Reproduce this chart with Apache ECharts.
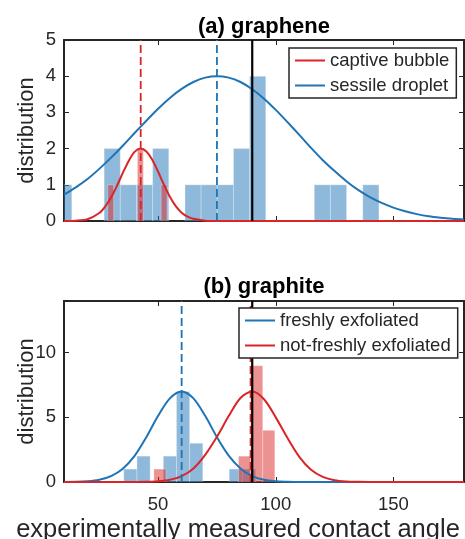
<!DOCTYPE html>
<html>
<head>
<meta charset="utf-8">
<title>contact angle distribution</title>
<script src="https://cdn.jsdelivr.net/npm/echarts@6/dist/echarts.min.js"></script>
<style>
    html, body {margin: 0; padding: 0; background: #fff;}
    #main {width: 465px; height: 539px;}
</style>
</head>
<body>
<div id="main"></div>
<script type="text/javascript">

// (a) graphene -- histogram bin edges and counts
var sessileEdges  = [6.45, 13.32, 20.19, 27.06, 33.93, 40.80, 47.67, 54.54, 61.41, 68.28, 75.15,
                     82.02, 88.89, 95.76, 102.63, 109.50, 116.37, 123.24, 130.11, 136.98, 143.85];
var sessileCounts = [1, 0, 0, 2, 1, 1, 2, 0, 1, 1, 1, 2, 4, 0, 0, 0, 1, 1, 0, 1];
var captiveEdges  = [28.60, 31.12, 33.64, 36.16, 38.68, 41.20, 43.72, 46.24, 48.76, 51.28, 53.80];
var captiveCounts = [1, 0, 0, 0, 0, 2, 0, 0, 0, 1];

// (a) fitted curves
var sessileX = [10, 15, 20, 25, 30, 35, 40, 45, 50, 55, 60, 65, 70, 75, 80, 85, 90, 95, 100, 105,
                110, 115, 120, 125, 130, 135, 140, 145, 150, 155, 160, 165, 170, 175, 180];
var sessileY = [0.73, 0.93, 1.16, 1.44, 1.75, 2.08, 2.43, 2.77, 3.10, 3.40, 3.65, 3.84, 3.96, 4.00, 3.96,
                3.84, 3.64, 3.38, 3.07, 2.73, 2.38, 2.02, 1.68, 1.38, 1.10, 0.86, 0.66, 0.50, 0.37,
                0.27, 0.19, 0.13, 0.09, 0.06, 0.04];
var captiveX = [10, 15, 20, 25, 27.5, 30, 32.5, 35, 37.5, 40, 42.5, 45, 47.5, 50, 52.5, 55, 57.5,
                60, 62.5, 65, 70, 75, 180];
var captiveY = [0, 0.01, 0.05, 0.22, 0.40, 0.65, 0.97, 1.33, 1.66, 1.91, 2.00, 1.92, 1.69, 1.36,
                1.00, 0.67, 0.41, 0.23, 0.12, 0.06, 0.01, 0, 0];

// (b) graphite -- histogram bin edges and counts
var freshEdges  = [35.4, 41.0, 46.6, 52.2, 57.8, 63.4, 69.0, 74.6, 80.2, 85.8, 91.4];
var freshCounts = [1, 2, 0, 2, 7, 3, 0, 0, 1, 1];
var oldEdges    = [48.20, 53.34, 58.48, 63.62, 68.76, 73.90, 79.04, 84.18, 89.32, 94.46, 99.60];
var oldCounts   = [1, 0, 0, 0, 0, 0, 0, 2, 9, 4];

// (b) fitted curves
var curveX = [10, 15, 20, 25, 30, 35, 40, 45, 50, 55, 60, 65, 70, 75, 80, 85, 90, 95, 100, 105,
              110, 115, 120, 125, 130, 135, 140, 145, 150, 155, 160, 165, 170, 175, 180];
var freshY = [0, 0.01, 0.06, 0.18, 0.46, 1.03, 2.02, 3.47, 5.12, 6.47, 7.00, 6.47, 5.12, 3.47, 2.04,
              1.05, 0.46, 0.17, 0.06, 0.02, 0, 0, 0, 0, 0, 0, 0, 0, 0, 0, 0, 0, 0, 0, 0];
var oldY   = [0, 0, 0, 0, 0, 0, 0, 0.01, 0.05, 0.17, 0.45, 1.05, 2.10, 3.50, 5.10, 6.50, 7.00, 6.40,
              5.00, 3.40, 1.95, 0.95, 0.40, 0.14, 0.04, 0.01, 0, 0, 0, 0, 0, 0, 0, 0, 0];

// mean markers and the 90 degree reference
var captiveMean = 42.6, sessileMean = 75;
var freshMean = 60, oldMean = 89.3;
var refAngle = 90;

var xTicks = [50, 100, 150];
var fontName = 'Liberation Sans, Arial, sans-serif';
var ink = '#262626';
var blue = '#1f74b5';
var red = '#d92528';

function toPairs(xs, ys) {
    var out = [];
    for (var i = 0; i < xs.length; i++) out.push([xs[i], ys[i]]);
    return out;
}

function toBins(edges, counts) {
    var out = [];
    for (var i = 0; i < counts.length; i++) {
        if (counts[i] > 0) out.push([edges[i], edges[i + 1], counts[i]]);
    }
    return out;
}

function histSeries(idx, edges, counts, color) {
    return {
        type: 'custom',
        xAxisIndex: idx, yAxisIndex: idx,
        clip: true,
        z: 2,
        silent: true,
        data: toBins(edges, counts),
        renderItem: function (params, api) {
            var p0 = api.coord([api.value(0), api.value(2)]);
            var p1 = api.coord([api.value(1), 0]);
            return {
                type: 'rect',
                shape: {x: p0[0], y: p0[1], width: p1[0] - p0[0], height: p1[1] - p0[1]},
                style: {fill: color, opacity: 0.5, stroke: 'rgba(255,255,255,0.6)', lineWidth: 1}
            };
        }
    };
}

function curveSeries(idx, name, xs, ys, color) {
    return {
        name: name, type: 'line',
        xAxisIndex: idx, yAxisIndex: idx,
        data: toPairs(xs, ys),
        smooth: 0.3, symbol: 'none', z: 3,
        lineStyle: {color: color, width: 2},
        itemStyle: {color: color}
    };
}

function vline(idx, x, top, color, dashed) {
    return {
        type: 'line',
        xAxisIndex: idx, yAxisIndex: idx,
        data: [[x, 0], [x, top]],
        symbol: 'none', silent: true,
        z: dashed ? 4 : 5,
        lineStyle: {color: color, width: dashed ? 1.8 : 2.2, type: dashed ? [8, 4] : 'solid'}
    };
}

function xAx(grid, pos, labels) {
    var a = {
        type: 'value', gridIndex: grid, position: pos, min: 10, max: 180,
        axisLine: {show: true, onZero: false, lineStyle: {color: ink, width: 2}},
        axisTick: {show: true, inside: true, length: 5, customValues: xTicks, lineStyle: {color: ink, width: 1}},
        axisLabel: {show: false},
        splitLine: {show: false}
    };
    if (labels) {
        a.axisLabel = {show: true, customValues: xTicks, margin: 13, fontSize: 18.5, fontFamily: fontName, color: ink};
        a.name = 'experimentally measured contact angle';
        a.nameLocation = 'middle';
        a.nameGap = 35;
        a.nameMoveOverlap = false;
        a.nameTextStyle = {fontSize: 25.5, fontFamily: fontName, color: ink, padding: [0, 52, 0, 0]};
    }
    return a;
}

function yAx(grid, pos, max, ticks, labels) {
    var a = {
        type: 'value', gridIndex: grid, position: pos, min: 0, max: max,
        axisLine: {show: true, onZero: false, lineStyle: {color: ink, width: 2}},
        axisTick: {show: true, inside: true, length: 5, customValues: ticks, lineStyle: {color: ink, width: 1}},
        axisLabel: {show: false},
        splitLine: {show: false}
    };
    if (labels) {
        a.axisLabel = {show: true, customValues: ticks, margin: 8, fontSize: 18.5, fontFamily: fontName, color: ink};
        a.name = 'distribution';
        a.nameLocation = 'middle';
        a.nameGap = 26;
        a.nameMoveOverlap = false;
        a.nameTextStyle = {fontSize: 22, fontFamily: fontName, color: ink};
    }
    return a;
}

function legendBox(left, top, names) {
    return {
        data: names, left: left, top: top, orient: 'vertical',
        icon: 'rect', itemWidth: 30, itemHeight: 2, itemGap: 6,
        padding: [3, 7, 3, 6],
        borderColor: ink, borderWidth: 1.5, backgroundColor: '#fff',
        z: 10,
        textStyle: {fontSize: 18.5, lineHeight: 17, fontFamily: fontName, color: ink}
    };
}

var option = {
    backgroundColor: '#fff',
    animation: false,
    title: [
        {text: '(a) graphene', left: 264, top: 16, textAlign: 'center', padding: 0,
         textStyle: {fontSize: 22, fontWeight: 'bold', fontFamily: fontName, color: '#000'}},
        {text: '(b) graphite', left: 264, top: 276, textAlign: 'center', padding: 0,
         textStyle: {fontSize: 22, fontWeight: 'bold', fontFamily: fontName, color: '#000'}}
    ],
    legend: [
        legendBox(289, 48, ['captive bubble', 'sessile droplet']),
        legendBox(239, 308, ['freshly exfoliated', 'not-freshly exfoliated'])
    ],
    grid: [
        {left: 64, top: 40, width: 400, height: 181, outerBoundsMode: 'none'},
        {left: 64, top: 301, width: 400, height: 181, outerBoundsMode: 'none'}
    ],
    xAxis: [xAx(0, 'bottom', false), xAx(0, 'top', false), xAx(1, 'bottom', true), xAx(1, 'top', false)],
    yAxis: [yAx(0, 'left', 5, [0, 1, 2, 3, 4, 5], true), yAx(0, 'right', 5, [0, 1, 2, 3, 4, 5], false),
            yAx(1, 'left', 14, [0, 5, 10], true), yAx(1, 'right', 14, [0, 5, 10], false)],
    series: [
        histSeries(0, sessileEdges, sessileCounts, blue),
        histSeries(0, captiveEdges, captiveCounts, red),
        curveSeries(0, 'sessile droplet', sessileX, sessileY, blue),
        curveSeries(0, 'captive bubble', captiveX, captiveY, red),
        vline(0, captiveMean, 5, red, true),
        vline(0, sessileMean, 5, blue, true),
        vline(0, refAngle, 5, '#000', false),

        histSeries(2, freshEdges, freshCounts, blue),
        histSeries(2, oldEdges, oldCounts, red),
        curveSeries(2, 'freshly exfoliated', curveX, freshY, blue),
        curveSeries(2, 'not-freshly exfoliated', curveX, oldY, red),
        vline(2, freshMean, 14, blue, true),
        vline(2, oldMean, 14, red, true),
        vline(2, refAngle, 14, '#000', false)
    ]
};

var myChart = echarts.init(document.getElementById('main'));
myChart.setOption(option);
</script>
</body>
</html>
